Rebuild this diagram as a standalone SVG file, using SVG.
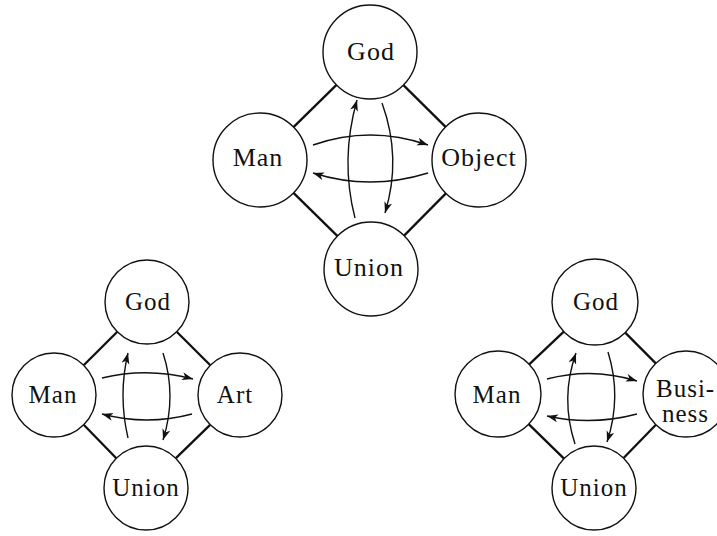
<svg xmlns="http://www.w3.org/2000/svg" width="717" height="536" viewBox="0 0 717 536">
<style>
.node circle{fill:#fff;stroke:#111;stroke-width:1.4}
.node text{font-family:"Liberation Serif","Times New Roman",serif;font-size:26px;letter-spacing:1px;fill:#111;text-anchor:middle}
.small text{font-size:25px}
.edge{stroke:#111;stroke-width:2.3;fill:none}
.arr{stroke:#111;stroke-width:1.4;fill:none;marker-end:url(#ah)}
</style>
<defs>
<marker id="ah" markerUnits="userSpaceOnUse" markerWidth="14" markerHeight="10" refX="11" refY="4" orient="auto">
<path d="M0,0 L11,4 L0,8 L3,4 Z" fill="#111"/>
</marker>
</defs>
<rect width="717" height="536" fill="#fff"/>
<g id="connectors">
<!-- top diagram -->
<line class="edge" x1="336.5" y1="84.9" x2="293.5" y2="127.1"/>
<line class="edge" x1="403.4" y1="85.1" x2="445.6" y2="126.9"/>
<line class="edge" x1="293.5" y1="192.9" x2="337.5" y2="236.1"/>
<line class="edge" x1="445.9" y1="193.4" x2="404.1" y2="235.6"/>
<path class="arr" d="M313,145 Q370,125 428,145"/>
<path class="arr" d="M428,173 Q370,191 313,173"/>
<path class="arr" d="M355,218 Q340,160 357,100"/>
<path class="arr" d="M382,103 Q402,158 385,213"/>
<!-- bottom-left diagram -->
<line class="edge" x1="117.3" y1="331.7" x2="83.7" y2="365.3"/>
<line class="edge" x1="176.7" y1="331.7" x2="210.3" y2="365.3"/>
<line class="edge" x1="83.7" y1="424.7" x2="116.3" y2="458.3"/>
<line class="edge" x1="210.1" y1="424.9" x2="175.9" y2="458.1"/>
<path class="arr" d="M102,378 Q147,367 193,379"/>
<path class="arr" d="M192,414 Q147,426 102,414"/>
<path class="arr" d="M128,438 Q118,395 128,353"/>
<path class="arr" d="M163,353 Q177,396 163,440"/>
<!-- bottom-right diagram -->
<line class="edge" x1="563.8" y1="331.6" x2="529.2" y2="364.4"/>
<line class="edge" x1="625.2" y1="332.6" x2="655.8" y2="363.4"/>
<line class="edge" x1="528.7" y1="424.1" x2="564" y2="458.6"/>
<line class="edge" x1="655.9" y1="424.7" x2="623.6" y2="458"/>
<path class="arr" d="M547,379 Q592,367 637,381"/>
<path class="arr" d="M637,414 Q592,426 547,416"/>
<path class="arr" d="M575,444 Q560,398 576,353"/>
<path class="arr" d="M608,352 Q622,397 607,442"/>
</g>
<g id="top-god" class="node"><circle cx="370" cy="52" r="47"/><text x="371" y="60">God</text></g>
<g id="top-man" class="node"><circle cx="260" cy="160" r="47"/><text x="258" y="166">Man</text></g>
<g id="top-object" class="node"><circle cx="479" cy="160" r="47"/><text x="479" y="166">Object</text></g>
<g id="top-union" class="node"><circle cx="371" cy="269" r="47"/><text x="369" y="276">Union</text></g>

<g id="bl-god" class="node small"><circle cx="147" cy="302" r="42"/><text x="148" y="310">God</text></g>
<g id="bl-man" class="node small"><circle cx="54" cy="395" r="42"/><text x="53" y="403">Man</text></g>
<g id="bl-art" class="node small"><circle cx="240" cy="395" r="42"/><text x="235" y="403">Art</text></g>
<g id="bl-union" class="node small"><circle cx="146" cy="488" r="42"/><text x="146" y="496">Union</text></g>

<g id="br-god" class="node small"><circle cx="595" cy="302" r="43"/><text x="596" y="310">God</text></g>
<g id="br-man" class="node small"><circle cx="498" cy="394" r="43"/><text x="497" y="403">Man</text></g>
<g id="br-business" class="node small"><circle cx="686" cy="394" r="43"/><text x="656" y="397" style="text-anchor:start">Busi-</text><text x="662" y="422" style="text-anchor:start">ness</text></g>
<g id="br-union" class="node small"><circle cx="594" cy="488" r="42"/><text x="594" y="496">Union</text></g>
</svg>
